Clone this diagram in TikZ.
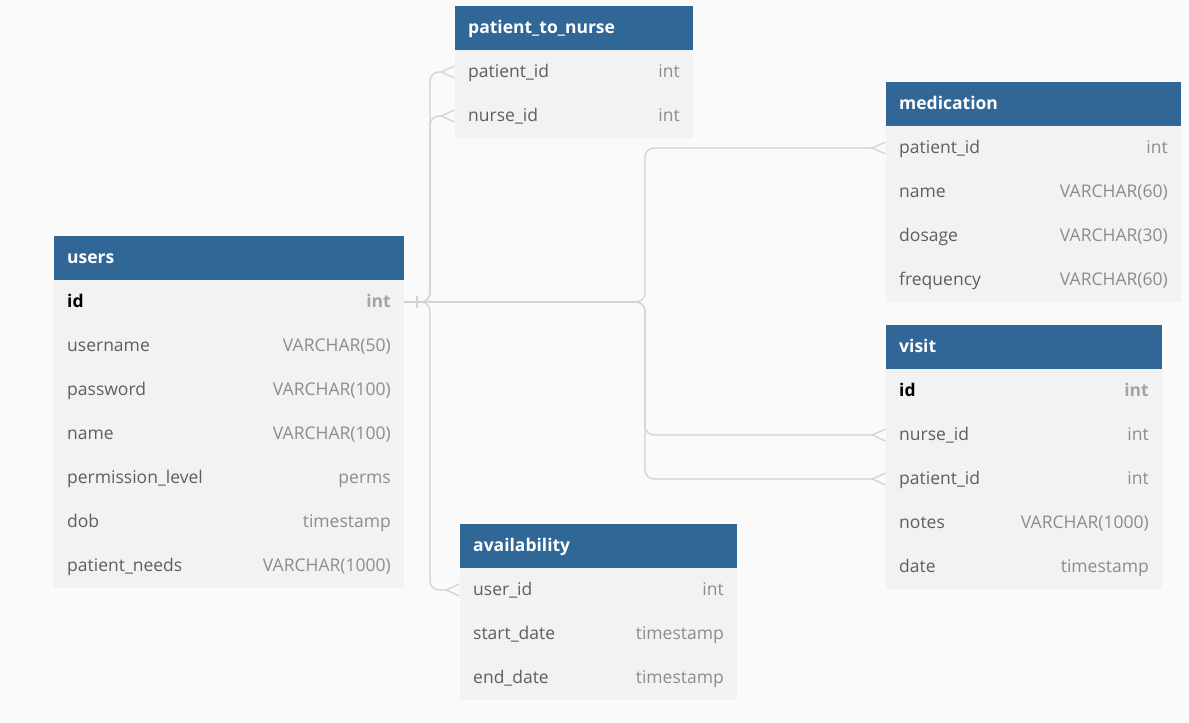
\documentclass[tikz,border=0pt]{standalone}
\usepackage{fontspec}
\setmainfont{Open Sans}
\usetikzlibrary{arrows.meta,positioning,calc}
\definecolor{hdrblue}{HTML}{316796}
\definecolor{rowgrey}{HTML}{F2F2F2}
\definecolor{bggrey}{HTML}{FAFAFA}
\definecolor{linegrey}{HTML}{D2D2D2}
\definecolor{namegrey}{HTML}{5E5E5E}
\definecolor{typegrey}{HTML}{8C8C8C}

\begin{document}
\begin{tikzpicture}[x=1pt,y=-1pt,
  every node/.style={font=\fontsize{17.5}{21}\selectfont},
  box/.style={anchor=north west,minimum height=44pt,inner sep=0pt,outer sep=0pt},
  hdr/.style={box,fill=hdrblue},
  row/.style={box,fill=rowgrey},
  htxt/.style={anchor=mid west,inner sep=0pt,yshift=-3pt,text=white,font=\fontsize{17.5}{21}\selectfont\bfseries},
  fname/.style={anchor=mid west,inner sep=0pt,yshift=-3pt,text=namegrey},
  ftype/.style={anchor=mid east,inner sep=0pt,yshift=-3pt,text=typegrey},
  conn/.style={draw=linegrey,line width=1.3pt,rounded corners=9pt},
  many/.style={-{Straight Barb[reversed,length=13pt,width=12pt,line width=1.3pt]}}]

  \fill[bggrey] (0,0) rectangle (1189,723);
  \useasboundingbox (0,0) rectangle (1189,723);

  % users
  \node[hdr,minimum width=350pt] (usr) at (54,236) {};
  \node[htxt] at ([xshift=13pt]usr.west) {users};
  \node[row,minimum width=350pt] (usr1) at (54,280) {};
  \node[fname,text=black,font=\fontsize{17.5}{21}\selectfont\bfseries] at ([xshift=13pt]usr1.west) {id};
  \node[ftype,text=typegrey!80,font=\fontsize{17.5}{21}\selectfont\bfseries] at ([xshift=-13pt]usr1.east) {int};
  \foreach \n/\t [count=\i from 2] in {username/VARCHAR(50),password/VARCHAR(100),name/VARCHAR(100),
      permission\_level/perms,dob/timestamp,patient\_needs/VARCHAR(1000)}{
      \node[row,minimum width=350pt] (usr\i) at (54,{236+44*\i}) {};
      \node[fname] at ([xshift=13pt]usr\i.west) {\n};
      \node[ftype] at ([xshift=-13pt]usr\i.east) {\t};
  }

  % patient_to_nurse
  \node[hdr,minimum width=238pt] (ptn) at (455,6) {};
  \node[htxt] at ([xshift=13pt]ptn.west) {patient\_to\_nurse};
  \foreach \n/\t [count=\i] in {patient\_id/int,nurse\_id/int}{
      \node[row,minimum width=238pt] (ptn\i) at (455,{6+44*\i}) {};
      \node[fname] at ([xshift=13pt]ptn\i.west) {\n};
      \node[ftype] at ([xshift=-13pt]ptn\i.east) {\t};
  }

  % medication
  \node[hdr,minimum width=295pt] (med) at (886,82) {};
  \node[htxt] at ([xshift=13pt]med.west) {medication};
  \foreach \n/\t [count=\i] in {patient\_id/int,name/VARCHAR(60),dosage/VARCHAR(30),frequency/VARCHAR(60)}{
      \node[row,minimum width=295pt] (med\i) at (886,{82+44*\i}) {};
      \node[fname] at ([xshift=13pt]med\i.west) {\n};
      \node[ftype] at ([xshift=-13pt]med\i.east) {\t};
  }

  % visit
  \node[hdr,minimum width=276pt] (vst) at (886,325) {};
  \node[htxt] at ([xshift=13pt]vst.west) {visit};
  \node[row,minimum width=276pt] (vst1) at (886,369) {};
  \node[fname,text=black,font=\fontsize{17.5}{21}\selectfont\bfseries] at ([xshift=13pt]vst1.west) {id};
  \node[ftype,text=typegrey!80,font=\fontsize{17.5}{21}\selectfont\bfseries] at ([xshift=-13pt]vst1.east) {int};
  \foreach \n/\t [count=\i from 2] in {nurse\_id/int,patient\_id/int,notes/VARCHAR(1000),date/timestamp}{
      \node[row,minimum width=276pt] (vst\i) at (886,{325+44*\i}) {};
      \node[fname] at ([xshift=13pt]vst\i.west) {\n};
      \node[ftype] at ([xshift=-13pt]vst\i.east) {\t};
  }

  % availability
  \node[hdr,minimum width=277pt] (avl) at (460,524) {};
  \node[htxt] at ([xshift=13pt]avl.west) {availability};
  \foreach \n/\t [count=\i] in {user\_id/int,start\_date/timestamp,end\_date/timestamp}{
      \node[row,minimum width=277pt] (avl\i) at (460,{524+44*\i}) {};
      \node[fname] at ([xshift=13pt]avl\i.west) {\n};
      \node[ftype] at ([xshift=-13pt]avl\i.east) {\t};
  }

  % relations
  \coordinate (lft) at (430,0);
  \coordinate (mid) at (645,0);
  \draw[conn,many] (usr1.east) -| (lft |- ptn1.west) -- (ptn1.west);
  \draw[conn,many] (usr1.east) -| (lft |- ptn2.west) -- (ptn2.west);
  \draw[conn,many] (usr1.east) -| (lft |- avl1.west) -- (avl1.west);
  \draw[conn,many] (usr1.east) -| (mid |- med1.west) -- (med1.west);
  \draw[conn,many] (usr1.east) -| (mid |- vst2.west) -- (vst2.west);
  \draw[conn,many] (usr1.east) -| (mid |- vst3.west) -- (vst3.west);
  \draw[conn] ([xshift=13pt,yshift=6pt]usr1.east) -- ([xshift=13pt,yshift=-6pt]usr1.east);
\end{tikzpicture}
\end{document}
